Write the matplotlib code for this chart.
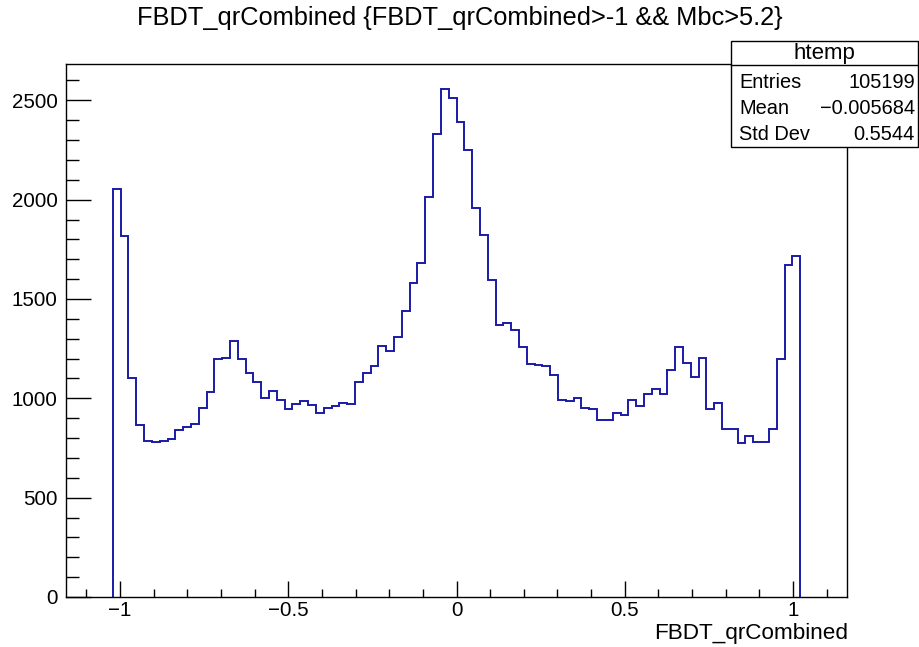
import matplotlib
matplotlib.use("Agg")
import matplotlib.pyplot as plt
import numpy as np
from matplotlib.patches import Rectangle
from matplotlib.ticker import MultipleLocator

plt.rcParams['font.family'] = ['Liberation Sans', 'DejaVu Sans']

# ---- data (histogram htemp) ----
x_min, x_max, n_bins = -1.16, 1.16, 100
first_bin = 6  # index of first non-empty bin
counts = [
    2052, 1819, 1100, 865, 786, 778, 786, 796, 842, 857,
    873, 952, 1033, 1197, 1204, 1290, 1196, 1128, 1083, 1003,
    1039, 994, 945, 970, 986, 968, 927, 952, 961, 977,
    969, 1081, 1125, 1162, 1264, 1237, 1308, 1439, 1578, 1682,
    2011, 2332, 2555, 2514, 2391, 2252, 1959, 1821, 1595, 1368,
    1377, 1343, 1258, 1175, 1170, 1162, 1117, 994, 986, 1004,
    950, 944, 892, 892, 924, 917, 994, 961, 1021, 1046,
    1021, 1142, 1256, 1179, 1108, 1203, 944, 977, 848, 848,
    773, 811, 780, 780, 848, 1197, 1673, 1715,
]
x_ticks = [-1, -0.5, 0, 0.5, 1]
x_tick_labels = ["\u22121", "\u22120.5", "0", "0.5", "1"]
y_ticks = [0, 500, 1000, 1500, 2000, 2500]
title = "FBDT_qrCombined {FBDT_qrCombined>-1 && Mbc>5.2}"
x_label = "FBDT_qrCombined"
stats_name = "htemp"
stats_rows = [("Entries", "105199"), ("Mean", "\u22120.005684"), ("Std Dev", "0.5544")]

W, H = 919, 647
fig = plt.figure(figsize=(W / 100, H / 100), dpi=100)
fig.patch.set_facecolor('white')

ax_l, ax_r, ax_t, ax_b = 66, 847, 64, 597
ax = fig.add_axes([ax_l / W, (H - ax_b) / H, (ax_r - ax_l) / W, (ax_b - ax_t) / H])

edges = np.linspace(x_min, x_max, n_bins + 1)
vals = np.array(counts, dtype=float)
e = edges[first_bin:first_bin + len(vals) + 1]
ax.stairs(vals, e, baseline=0, color='#1a1aa6', linewidth=1.4)

ax.set_xlim(x_min, x_max)
ax.set_ylim(0, max(counts) * 1.05)

ax.set_xticks(x_ticks)
ax.set_xticklabels(x_tick_labels)
ax.xaxis.set_minor_locator(MultipleLocator(0.1))
ax.set_yticks(y_ticks)
ax.yaxis.set_minor_locator(MultipleLocator(100))

ax.tick_params(axis='x', which='major', direction='in', length=11.5, width=1, labelsize=14.8, pad=3)
ax.tick_params(axis='x', which='minor', direction='in', length=5.8, width=1)
ax.tick_params(axis='y', which='major', direction='in', length=18, width=1, labelsize=14.8, pad=6)
ax.tick_params(axis='y', which='minor', direction='in', length=9.4, width=1)
ax.tick_params(top=False, right=False, which='both')
for s in ax.spines.values():
    s.set_linewidth(1)
    s.set_color('black')

fig.text(460 / W, 1 - 18 / H, title, ha='center', va='center', fontsize=18.3)
fig.text(848 / W, 1 - 633 / H, x_label, ha='right', va='center', fontsize=16.2)

# stats box
bx_l, bx_r, bx_t, bx_b = 731, 918, 41, 147
rect = Rectangle((bx_l / W, 1 - bx_b / H), (bx_r - bx_l) / W, (bx_b - bx_t) / H,
                 transform=fig.transFigure, facecolor='white', edgecolor='black', linewidth=1, zorder=5)
fig.add_artist(rect)
fig.add_artist(plt.Line2D([bx_l / W, bx_r / W], [1 - 65 / H, 1 - 65 / H], transform=fig.transFigure,
                          color='black', linewidth=1, zorder=6))
fig.text((bx_l + bx_r) / 2 / W, 1 - 53 / H, stats_name, ha='center', va='center', fontsize=16, zorder=7)
row_y = [82, 108.5, 134]
for (k, v), yy in zip(stats_rows, row_y):
    fig.text(739 / W, 1 - yy / H, k, ha='left', va='center', fontsize=14.4, zorder=7)
    fig.text(915 / W, 1 - yy / H, v, ha='right', va='center', fontsize=14.4, zorder=7)

fig.savefig('out.png', dpi=100, facecolor='white')
